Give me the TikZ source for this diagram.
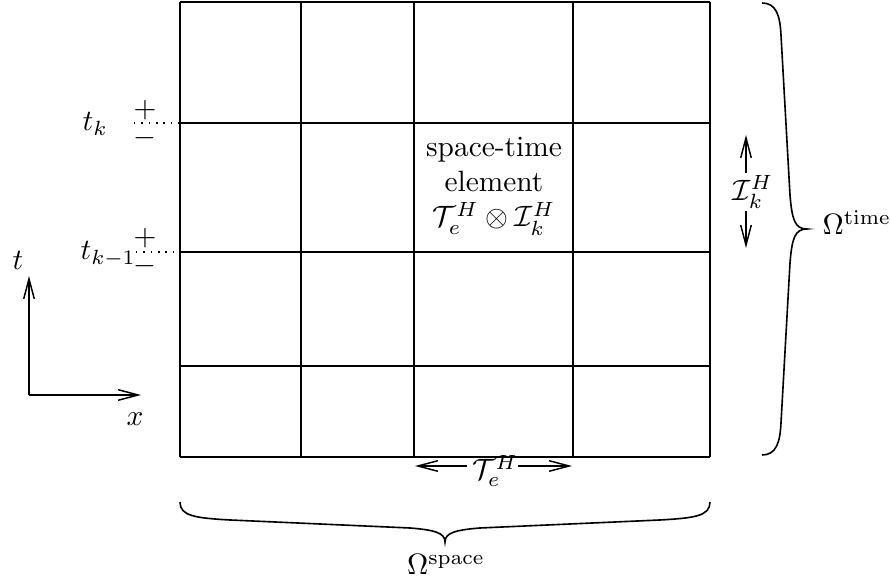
\documentclass[tikz,border=0pt]{standalone}
\usetikzlibrary{arrows.meta}
\begin{document}
\begin{tikzpicture}[x=0.34pt,y=-0.34pt, line width=0.5pt,
  arr/.style={-{Straight Barb[length=6.8pt,width=3.6pt]}},
  lbl/.style={inner sep=0pt},
  gridline/.style={line width=0.5pt},
  bracepath/.style={line width=0.55pt}]
\useasboundingbox (0,0) rectangle (890,586);
% grid
\foreach \x in {180,301,414,573,710} \draw[gridline] (\x,2) -- (\x,457);
\foreach \y in {2,123,252,366,457} \draw[gridline] (180,\y) -- (710,\y);

% time levels
\coordinate (dk0) at (134,123);  \coordinate (dk1) at (180,123);
\coordinate (dm0) at (136,252);  \coordinate (dm1) at (180,252);
\draw[dotted] (dk0) -- (dk1);
\draw[dotted] (dm0) -- (dm1);
\node[lbl, anchor=base west] (tk) at (82,131) {$t_k$};
\node[lbl, anchor=base west] (tkm) at (80,260) {$t_{k-1}$};
\node[lbl] (pk) at (145,110) {$+$};
\node[lbl] (mk) at (145,138) {$-$};
\node[lbl] (pkm) at (145,238) {$+$};
\node[lbl] (mkm) at (145,266) {$-$};

% axes
\coordinate (o) at (29,395);
\coordinate (ot) at (29,276);
\coordinate (ox) at (141,395);
\draw[arr] (o) -- (ot);
\draw[arr] (o) -- (ox);
\node[lbl] (tl) at (18,260) {$t$};
\node[lbl] (xl) at (135,419) {$x$};

% element label
\node[align=center, inner sep=0pt] (el) at (494,186) {space-time\\element\\$\mathcal{T}_e^H\otimes\mathcal{I}_k^H$};

% T_e^H arrows
\node[lbl] (te) at (495,471) {$\mathcal{T}_e^H$};
\coordinate (tl0) at (415,466);
\coordinate (tr0) at (572,466);
\coordinate (tl1) at (467,466);
\coordinate (tr1) at (518,466);
\draw[arr] (tl1) -- (tl0);
\draw[arr] (tr1) -- (tr0);

% I_k^H arrows
\node[lbl] (ik) at (753,192) {$\mathcal{I}_k^H$};
\coordinate (iu) at (746,135);
\coordinate (id) at (746,248);
\draw[arr] (iu |- ik.north) ++(0,-2) -- (iu);
\draw[arr] (id |- ik.south) ++(0,2) -- (id);

% right brace
\draw[bracepath] (762,3) .. controls (776,3) and (780,15) .. (781,35)
  -- (790,195) .. controls (792,220) and (795,229) .. (807,229)
  .. controls (795,229) and (792,238) .. (790,263)
  -- (781,423) .. controls (780,443) and (776,455) .. (762,455);
\node[lbl, anchor=base west] (omt) at (822,235) {$\Omega^{\mathrm{time}}$};

% bottom brace
\draw[bracepath] (180,502) .. controls (180,516) and (195,518) .. (230,520)
  -- (410,528) .. controls (435,530) and (445,533) .. (445,542)
  .. controls (445,533) and (455,530) .. (480,528)
  -- (660,520) .. controls (695,518) and (710,516) .. (710,502);
\node[lbl, anchor=base] (oms) at (446,575) {$\Omega^{\mathrm{space}}$};
\end{tikzpicture}
\end{document}
